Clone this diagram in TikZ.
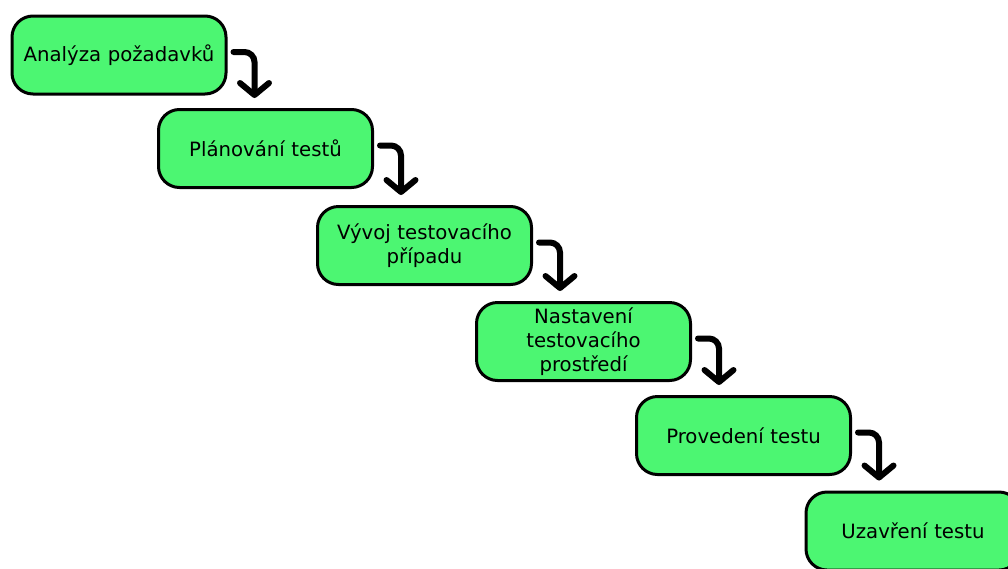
\documentclass[tikz,border=0pt]{standalone}
\usepackage{fontspec}
\setmainfont{DejaVu Sans}
\usetikzlibrary{arrows.meta,calc}
\definecolor{boxgreen}{RGB}{76,246,114}
\tikzset{
  x=1pt,y=-1pt,
  stepbox/.style={draw=black,fill=boxgreen,line width=3pt,rounded corners=21pt,
    minimum width=214pt,minimum height=78pt,inner sep=2pt,align=center,
    font=\fontsize{19.7}{24}\selectfont,text width=205pt},
  flow/.style={draw=black,line width=6pt,rounded corners=10pt,line cap=round,
    -{Straight Barb[length=12pt,width=29pt,line cap=round,line join=round]}}
}
\begin{document}
\begin{tikzpicture}
\useasboundingbox (0,0) rectangle (1008,568);
\clip (0,0) rectangle (1008,568);
\node[stepbox] (b1) at (119,55) {Analýza požadavků};
\node[stepbox] (b2) at (265.5,148.5) {Plánování testů};
\node[stepbox] (b3) at (424.5,245.5) {Vývoj testovacího\\případu};
\node[stepbox] (b4) at (583.5,341.5) {Nastavení\\testovacího\\prostředí};
\node[stepbox] (b5) at (743.5,435.5) {Provedení testu};
\node[stepbox] (b6) at (913,531) {Uzavření testu};
\foreach \a/\b in {b1/b2,b2/b3,b3/b4,b4/b5,b5/b6}{
  \draw[flow] ($(\a.east)+(6,-3)$) -| ($(\a.east |- \b.north)+(27,-10)$);
}
\end{tikzpicture}
\end{document}
